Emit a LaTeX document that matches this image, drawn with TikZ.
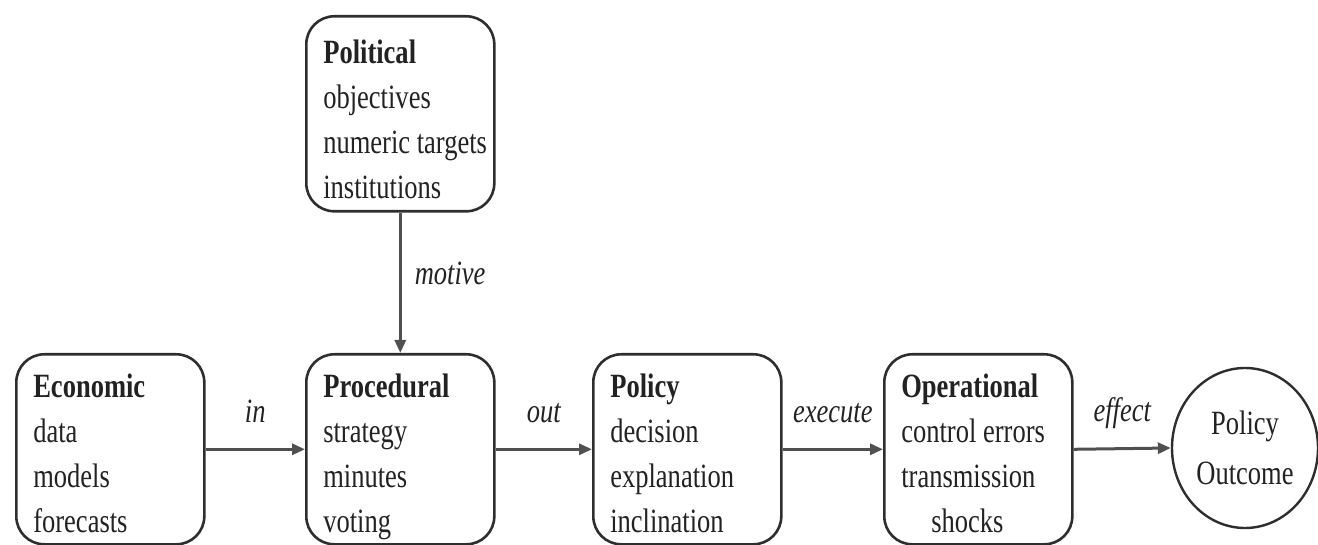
\documentclass[tikz,border=0pt]{standalone}
\usepackage{fontspec}
\setmainfont[FakeStretch=0.78]{Liberation Serif}
\usetikzlibrary{arrows.meta,shapes.geometric}
\definecolor{ln}{HTML}{2E2E2E}
\definecolor{ar}{HTML}{505050}
\definecolor{tx}{HTML}{222222}
\newcommand\bxt[3]{\parbox[c][#1pt][t]{154pt}{\rule{0pt}{#2pt}#3}}
\begin{document}
\begin{tikzpicture}[x=1pt,y=1pt,
  box/.style={draw=ln, line width=2.6pt, rounded corners=28pt, inner xsep=17pt, inner ysep=0pt,
    anchor=north west, text=tx, font=\fontsize{34}{45}\selectfont},
  outc/.style={draw=ln, line width=2.4pt, ellipse, minimum width=146pt, minimum height=160pt,
    inner sep=0pt, align=center, text=tx, font=\fontsize{34}{50}\selectfont},
  conn/.style={draw=ar, line width=3pt, -{Triangle[length=13pt,width=11pt]}},
  lab/.style={font=\fontsize{34}{40}\selectfont\itshape, text=tx, inner sep=0pt}]
\useasboundingbox (0,0) rectangle (1318,-545);
\node[box] (pol) at (305,-15) {\bxt{195}{47}{\textbf{Political}\\objectives\\\mbox{numeric targets}\\institutions}};
\node[box] (eco) at (15,-353) {\bxt{190}{43}{\textbf{Economic}\\data\\models\\forecasts}};
\node[box] (pro) at (305,-353) {\bxt{190}{43}{\textbf{Procedural}\\strategy\\minutes\\voting}};
\node[box] (pcy) at (592,-353) {\bxt{190}{43}{\textbf{Policy}\\decision\\explanation\\inclination}};
\node[box] (ope) at (883,-353) {\bxt{190}{43}{\textbf{Operational}\\\mbox{control errors}\\transmission\\\hspace*{30pt}shocks}};
\node[outc] (out) at (1245,-448) {Policy\\Outcome};
\draw[conn] (pol.south) -- node[lab, anchor=base west, xshift=13pt, yshift=-2pt] {motive} (pro.north);
\draw[conn] (eco.east) -- node[lab, anchor=base, yshift=27pt] {in} (pro.west);
\draw[conn] (pro.east) -- node[lab, anchor=base, yshift=27pt] {out} (pcy.west);
\draw[conn] (pcy.east) -- node[lab, anchor=base, yshift=27pt] {execute} (ope.west);
\draw[conn] (ope.east) -- node[lab, anchor=base, yshift=27pt] {effect} (out.west);
\end{tikzpicture}
\end{document}
